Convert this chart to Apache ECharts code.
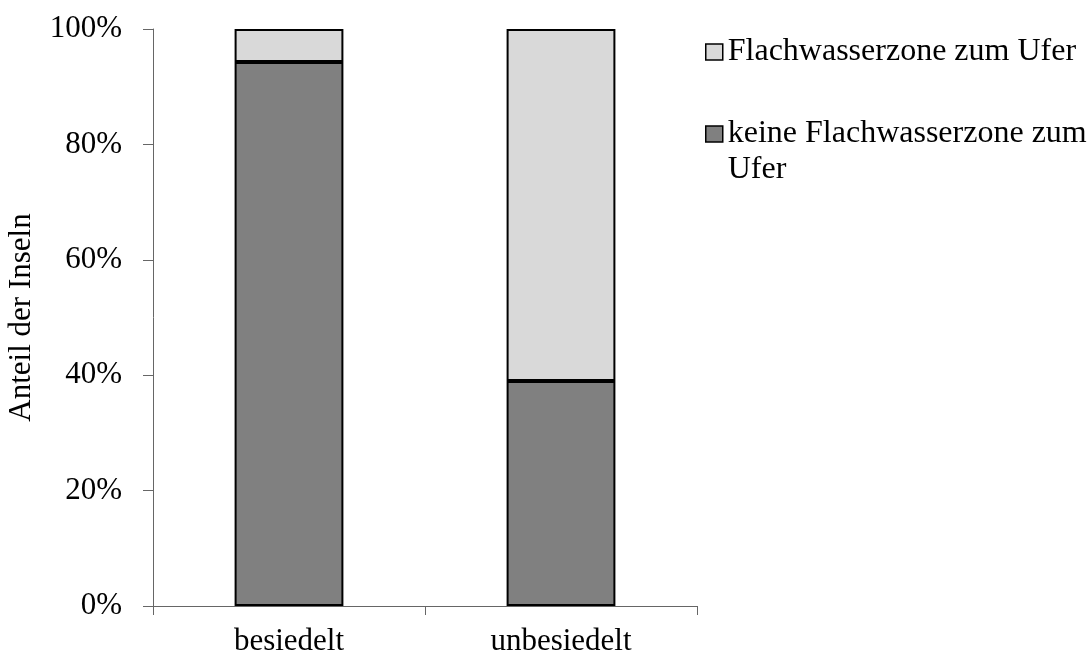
<!DOCTYPE html>
<html>
<head>
<meta charset="utf-8">
<script src="https://cdn.jsdelivr.net/npm/echarts@6/dist/echarts.min.js"></script>
<style>html,body{margin:0;padding:0;background:#fff;}#chart{width:1090px;height:657px;}</style>
</head>
<body>
<div id="chart"></div>
<script>
const categories = ['besiedelt', 'unbesiedelt'];
const seriesNames = ['keine Flachwasserzone zum Ufer', 'Flachwasserzone zum Ufer'];
const keineValues = [0.943, 0.39];
const flachValues = [0.057, 0.61];
const yTicks = [0, 0.2, 0.4, 0.6, 0.8, 1.0];
const yAxisTitle = 'Anteil der Inseln';

const FONT = 'Liberation Serif';
const chart = echarts.init(document.getElementById('chart'));
chart.setOption({
  animation: false,
  backgroundColor: '#fff',
  grid: { left: 153, right: 393, top: 29, bottom: 51 },
  legend: [
    {
      data: [seriesNames[1]],
      left: 705, top: 34, padding: 0,
      itemWidth: 17, itemHeight: 16,
      icon: 'rect',
      itemStyle: { borderColor: '#000', borderWidth: 1.5 },
      textStyle: { fontFamily: FONT, fontSize: 32, color: '#000', lineHeight: 36 }
    },
    {
      data: [seriesNames[0]],
      left: 705, top: 80, padding: 0,
      itemWidth: 17, itemHeight: 16,
      icon: 'rect',
      itemStyle: { borderColor: '#000', borderWidth: 1.5 },
      formatter: function (n) { return ' \nkeine Flachwasserzone zum\nUfer'; },
      textStyle: { fontFamily: FONT, fontSize: 32, color: '#000', lineHeight: 36 }
    }
  ],
  xAxis: {
    type: 'category',
    data: categories,
    axisLine: { lineStyle: { color: '#666666', width: 1 } },
    axisTick: { show: true, length: 9, alignWithLabel: false, lineStyle: { color: '#666666' } },
    axisLabel: { fontFamily: FONT, fontSize: 31, color: '#000', margin: 20 },
    splitLine: { show: false }
  },
  yAxis: {
    type: 'value',
    min: 0, max: 1, interval: 0.2,
    name: yAxisTitle,
    nameLocation: 'middle',
    nameGap: 116,
    nameTextStyle: { fontFamily: FONT, fontSize: 31, color: '#000' },
    axisLine: { show: true, lineStyle: { color: '#666666', width: 1 } },
    axisTick: { show: true, length: 10, lineStyle: { color: '#666666' } },
    axisLabel: {
      fontFamily: FONT, fontSize: 31, color: '#000', margin: 31,
      formatter: function (v) { return yTicks.indexOf(Math.round(v*10)/10) >= 0 ? Math.round(v * 100) + '%' : ''; }
    },
    splitLine: { show: false }
  },
  series: [
    {
      name: seriesNames[0], type: 'bar', stack: 'a', data: keineValues,
      barWidth: '40%',
      itemStyle: { color: '#808080', borderColor: '#000', borderWidth: 2 }
    },
    {
      name: seriesNames[1], type: 'bar', stack: 'a', data: flachValues,
      barWidth: '40%',
      itemStyle: { color: '#d9d9d9', borderColor: '#000', borderWidth: 2 }
    }
  ]
});
</script>
</body>
</html>
